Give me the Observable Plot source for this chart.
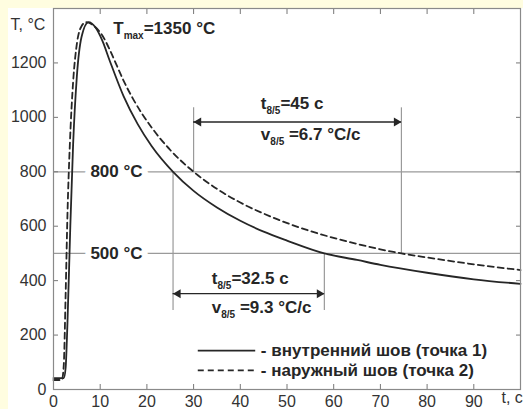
<!DOCTYPE html>
<html><head><meta charset="utf-8">
<script src="https://cdn.jsdelivr.net/npm/d3@7"></script>
<script src="https://cdn.jsdelivr.net/npm/@observablehq/plot@0.6"></script>
<style>
html,body{margin:0;padding:0;}
body{background:#FFFDE0;width:523px;height:409px;overflow:hidden;}
#wrap{position:relative;width:523px;height:409px;}
#paper{position:absolute;left:8px;top:8px;right:0;bottom:0;background:#fff;}
#chart{position:absolute;left:0;top:0;}
</style></head><body>
<div id="wrap"><div id="paper"></div><div id="chart"></div></div>
<script>
// --- data ---
const solidTime = [0, 2.2, 2.6, 3.0, 3.6, 4.2, 5.0, 6.0, 7.5, 9, 10.5, 12, 15, 18, 21, 25.6, 30, 35, 40, 45, 50, 58, 65, 70, 80, 90, 100];
const solidTemp = [42, 42, 80, 250, 600, 900, 1150, 1295, 1350, 1330, 1280, 1210, 1078, 976, 895, 800, 730, 669, 620, 580, 547, 500, 476, 458, 429, 405, 388];
const dashedTime = [0, 1.8, 2.2, 2.6, 3.0, 3.5, 4.2, 5.0, 6.0, 7.0, 8.5, 10.5, 12, 13.3, 15, 17, 21, 25, 30, 35, 40, 48, 55, 62, 74.5, 80, 90, 100];
const dashedTemp = [35, 35, 90, 350, 650, 900, 1130, 1270, 1335, 1350, 1338, 1300, 1250, 1200, 1135, 1069, 963, 880, 800, 737, 687, 625, 582, 548, 500, 485, 460, 439];
const xTicks = [0, 10, 20, 30, 40, 50, 60, 70, 80, 90];
const yTicks = [0, 200, 400, 600, 800, 1000, 1200];
const refTemps = [800, 500];
const refLabels = ["800 °C", "500 °C"];
const innerCross = [25.6, 58];   // solid curve crosses 800 / 500
const outerCross = [30, 74.5];   // dashed curve crosses 800 / 500
const innerTexts = ["t_{8/5}=32.5 c", "v_{8/5} =9.3 °C/c"];
const outerTexts = ["t_{8/5}=45 c", "v_{8/5} =6.7 °C/c"];
const peakText = "T_{max}=1350 °C";
const seriesNames = ["- внутренний шов (точка 1)", "- наружный шов (точка 2)"];
const yAxisTitle = "T, °C";
const xAxisTitle = "t, c";

const solid = solidTime.map((t, i) => ({t, T: solidTemp[i]}));
const dashed = dashedTime.map((t, i) => ({t, T: dashedTemp[i]}));

const ink = "#262626";
const grid = "#9a9a9a";
const bold = {fontWeight: "bold", fontSize: 17, fill: ink};

const lowerV = [{x: innerCross[0], y1: 290, y2: refTemps[0]}, {x: innerCross[1], y1: 290, y2: refTemps[1]}];
const upperV = [{x: outerCross[0], y1: refTemps[0], y2: 1035}, {x: outerCross[1], y1: refTemps[1], y2: 1035}];
const arrows = [{y: 352, x1: innerCross[0], x2: innerCross[1]}, {y: 983, x1: outerCross[0], x2: outerCross[1]}];
const heads = arrows.flatMap(a => [{x: a.x1, y: a.y, dir: -1}, {x: a.x2, y: a.y, dir: 1}]);

const chart = Plot.plot({
  width: 523, height: 409,
  marginLeft: 53, marginRight: 3, marginTop: 8, marginBottom: 20,
  x: {domain: [0, 100]},
  y: {domain: [0, 1400]},
  style: {background: "transparent", fontFamily: "'Liberation Sans', Arial, sans-serif", fontSize: "16px", color: "#333", overflow: "visible"},
  marks: [
    Plot.ruleY(refTemps, {y: d => d, stroke: grid, strokeWidth: 1.2}),
    Plot.ruleX(lowerV, {x: "x", y1: "y1", y2: "y2", stroke: grid, strokeWidth: 1.2}),
    Plot.ruleX(upperV, {x: "x", y1: "y1", y2: "y2", stroke: grid, strokeWidth: 1.2}),
    Plot.ruleY(arrows, {y: "y", x1: "x1", x2: "x2", stroke: ink, strokeWidth: 1.3}),
    Plot.dot(heads.filter(h => h.dir < 0), {x: "x", y: "y", symbol: "triangle", rotate: -90, r: 3.3, fill: ink, stroke: "none", dx: 5}),
    Plot.dot(heads.filter(h => h.dir > 0), {x: "x", y: "y", symbol: "triangle", rotate: 90, r: 3.3, fill: ink, stroke: "none", dx: -5}),
    Plot.line(solid, {x: "t", y: "T", curve: "monotone-x", stroke: ink, strokeWidth: 1.8}),
    Plot.line(dashed, {x: "t", y: "T", curve: "monotone-x", stroke: ink, strokeWidth: 1.8, strokeDasharray: "6,4"}),
    Plot.text(refTemps, {x: 7.9, y: d => d, text: (d, i) => refLabels[i], textAnchor: "start", stroke: "white", strokeWidth: 12, ...bold}),
    Plot.text(innerTexts, {x: 33.9, y: (d, i) => [407, 301][i], text: d => d, textAnchor: "start", ...bold}),
    Plot.text(outerTexts, {x: 44.4, y: (d, i) => [1050, 936][i], text: d => d, textAnchor: "start", ...bold}),
    Plot.text([peakText], {x: 12.8, y: 1325, text: d => d, textAnchor: "start", ...bold}),
    Plot.ruleY([143], {y: d => d, x1: 31, x2: 43.3, stroke: ink, strokeWidth: 1.8}),
    Plot.ruleY([70], {y: d => d, x1: 31, x2: 43.3, stroke: ink, strokeWidth: 1.8, strokeDasharray: "6,4"}),
    Plot.text(seriesNames, {x: 44.4, y: (d, i) => [143, 70][i], text: d => d, textAnchor: "start", ...bold}),
    Plot.axisX(xTicks, {anchor: "bottom", tickSize: -5, tickPadding: 11, tickFormat: d => String(d), label: null, stroke: "#777", fill: "#333"}),
    Plot.axisX(xTicks, {anchor: "top", tickSize: -5, tickFormat: () => "", label: null, stroke: "#777"}),
    Plot.axisY(yTicks, {anchor: "left", tickSize: -5, tickPadding: 12, tickFormat: d => String(d), label: null, stroke: "#777", fill: "#333"}),
    Plot.axisY(yTicks, {anchor: "right", tickSize: -5, tickFormat: () => "", label: null, stroke: "#777"}),
    Plot.text([yAxisTitle], {frameAnchor: "top-left", dx: -43, dy: 10, text: d => d, textAnchor: "start", fill: "#333"}),
    Plot.text([xAxisTitle], {frameAnchor: "bottom-right", dx: -19, dy: 13, text: d => d, textAnchor: "start", fill: "#333"}),
    Plot.frame({stroke: "#8a8a8a", strokeWidth: 1.2})
  ]
});

// subscripts: turn "_{...}" into lowered, smaller tspans
const NS = "http://www.w3.org/2000/svg";
chart.querySelectorAll("text").forEach(el => {
  const s = el.textContent;
  if (!s.includes("_{")) return;
  el.textContent = "";
  let prevSub = false;
  s.split(/(_\{[^}]*\})/).forEach(p => {
    if (!p) return;
    const ts = document.createElementNS(NS, "tspan");
    if (p.startsWith("_{")) {
      ts.textContent = p.slice(2, -1);
      ts.setAttribute("font-size", "10");
      ts.setAttribute("dy", "5");
      prevSub = true;
    } else {
      ts.textContent = p;
      if (prevSub) ts.setAttribute("dy", "-5");
      prevSub = false;
    }
    el.appendChild(ts);
  });
});

document.getElementById("chart").appendChild(chart);
</script>
</body></html>
